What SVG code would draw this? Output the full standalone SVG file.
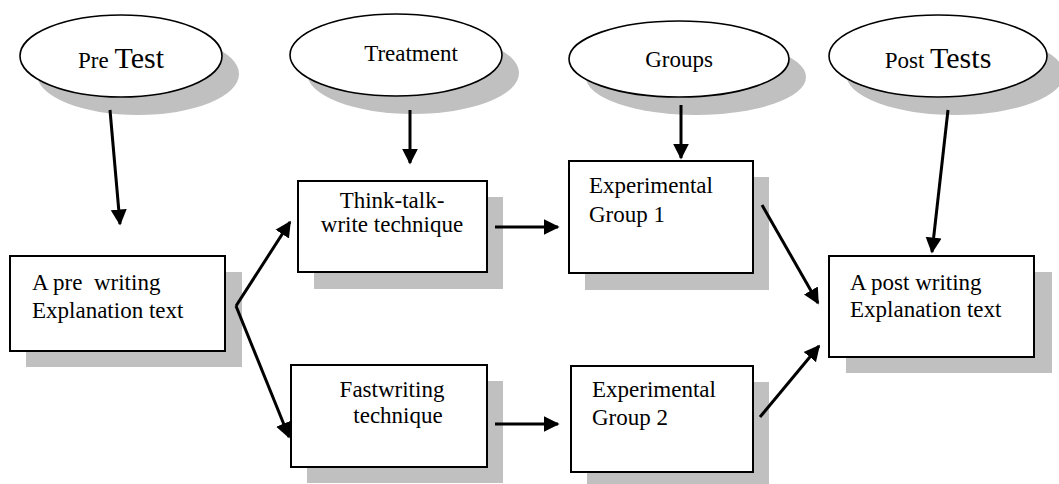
<svg xmlns="http://www.w3.org/2000/svg" width="1059" height="484" viewBox="0 0 1059 484">
<style>
.sh{fill:#c0c0c0;stroke:none}
.bx{fill:#fff;stroke:#000;stroke-width:2}
.el{fill:#fff;stroke:#000;stroke-width:1.6}
text{font-family:"Times New Roman","Liberation Serif","DejaVu Serif",serif;font-size:23px;fill:#000;white-space:pre}
.c{text-anchor:middle}
.big{font-size:30px}
.ar{stroke:#000;stroke-width:3;fill:none;marker-end:url(#ah)}
</style>
<defs>
<marker id="ah" viewBox="0 0 10 10" refX="9" refY="5" markerUnits="userSpaceOnUse" markerWidth="16" markerHeight="17" orient="auto">
<path d="M0,0 L10,5 L0,10 z" fill="#000"/>
</marker>
</defs>
<g id="pretest">
<ellipse class="sh" cx="138" cy="74" rx="101" ry="41"/>
<ellipse class="el" cx="121" cy="56" rx="101" ry="41"/>
<text class="c" x="121" y="68">Pre <tspan class="big">Test</tspan></text>
</g>
<g id="treatment">
<ellipse class="sh" cx="413" cy="73" rx="106" ry="41"/>
<ellipse class="el" cx="396" cy="55" rx="106" ry="41"/>
<text class="c" x="411" y="61">Treatment</text>
</g>
<g id="groups">
<ellipse class="sh" cx="696" cy="77" rx="110" ry="38"/>
<ellipse class="el" cx="679" cy="59" rx="110" ry="38"/>
<text class="c" x="679" y="67">Groups</text>
</g>
<g id="posttests">
<ellipse class="sh" cx="955" cy="74" rx="109" ry="41"/>
<ellipse class="el" cx="938" cy="56" rx="109" ry="41"/>
<text class="c" x="938" y="68">Post <tspan class="big">Tests</tspan></text>
</g>
<g id="prewriting">
<rect class="sh" x="26" y="272" width="216" height="95"/>
<rect class="bx" x="10" y="256" width="215" height="95"/>
<text x="32" y="290" xml:space="preserve">A pre  writing</text>
<text x="32" y="318">Explanation text</text>
</g>
<g id="ttw">
<rect class="sh" x="314" y="197" width="189" height="92"/>
<rect class="bx" x="298" y="181" width="189" height="91"/>
<text class="c" x="392" y="208">Think-talk-</text>
<text class="c" x="392" y="232">write technique</text>
</g>
<g id="fastwriting">
<rect class="sh" x="307" y="381" width="196" height="102"/>
<rect class="bx" x="291" y="365" width="196" height="102"/>
<text class="c" x="392" y="397">Fastwriting</text>
<text class="c" x="398" y="423">technique</text>
</g>
<g id="exp1">
<rect class="sh" x="585" y="177" width="184" height="113"/>
<rect class="bx" x="569" y="161" width="184" height="112"/>
<text x="589" y="193">Experimental</text>
<text x="589" y="222">Group 1</text>
</g>
<g id="exp2">
<rect class="sh" x="587" y="382" width="182" height="106"/>
<rect class="bx" x="571" y="366" width="182" height="106"/>
<text x="592" y="397">Experimental</text>
<text x="592" y="425">Group 2</text>
</g>
<g id="postwriting">
<rect class="sh" x="846" y="272" width="206" height="101"/>
<rect class="bx" x="829" y="256" width="205" height="101"/>
<text x="850" y="290">A post writing</text>
<text x="850" y="317">Explanation text</text>
</g>
<g id="connectors">
<line class="ar" x1="110" y1="110" x2="120" y2="224"/>
<line class="ar" x1="410" y1="110" x2="410" y2="163"/>
<line class="ar" x1="681" y1="105" x2="681" y2="158"/>
<line class="ar" x1="948" y1="110" x2="932" y2="252"/>
<line class="ar" x1="236" y1="306" x2="290" y2="222"/>
<line class="ar" x1="236" y1="306" x2="289" y2="437"/>
<line class="ar" x1="495" y1="227" x2="558" y2="227"/>
<line class="ar" x1="495" y1="424" x2="558" y2="424"/>
<line class="ar" x1="762" y1="205" x2="818" y2="303"/>
<line class="ar" x1="760" y1="417" x2="819" y2="346"/>
</g>
</svg>
